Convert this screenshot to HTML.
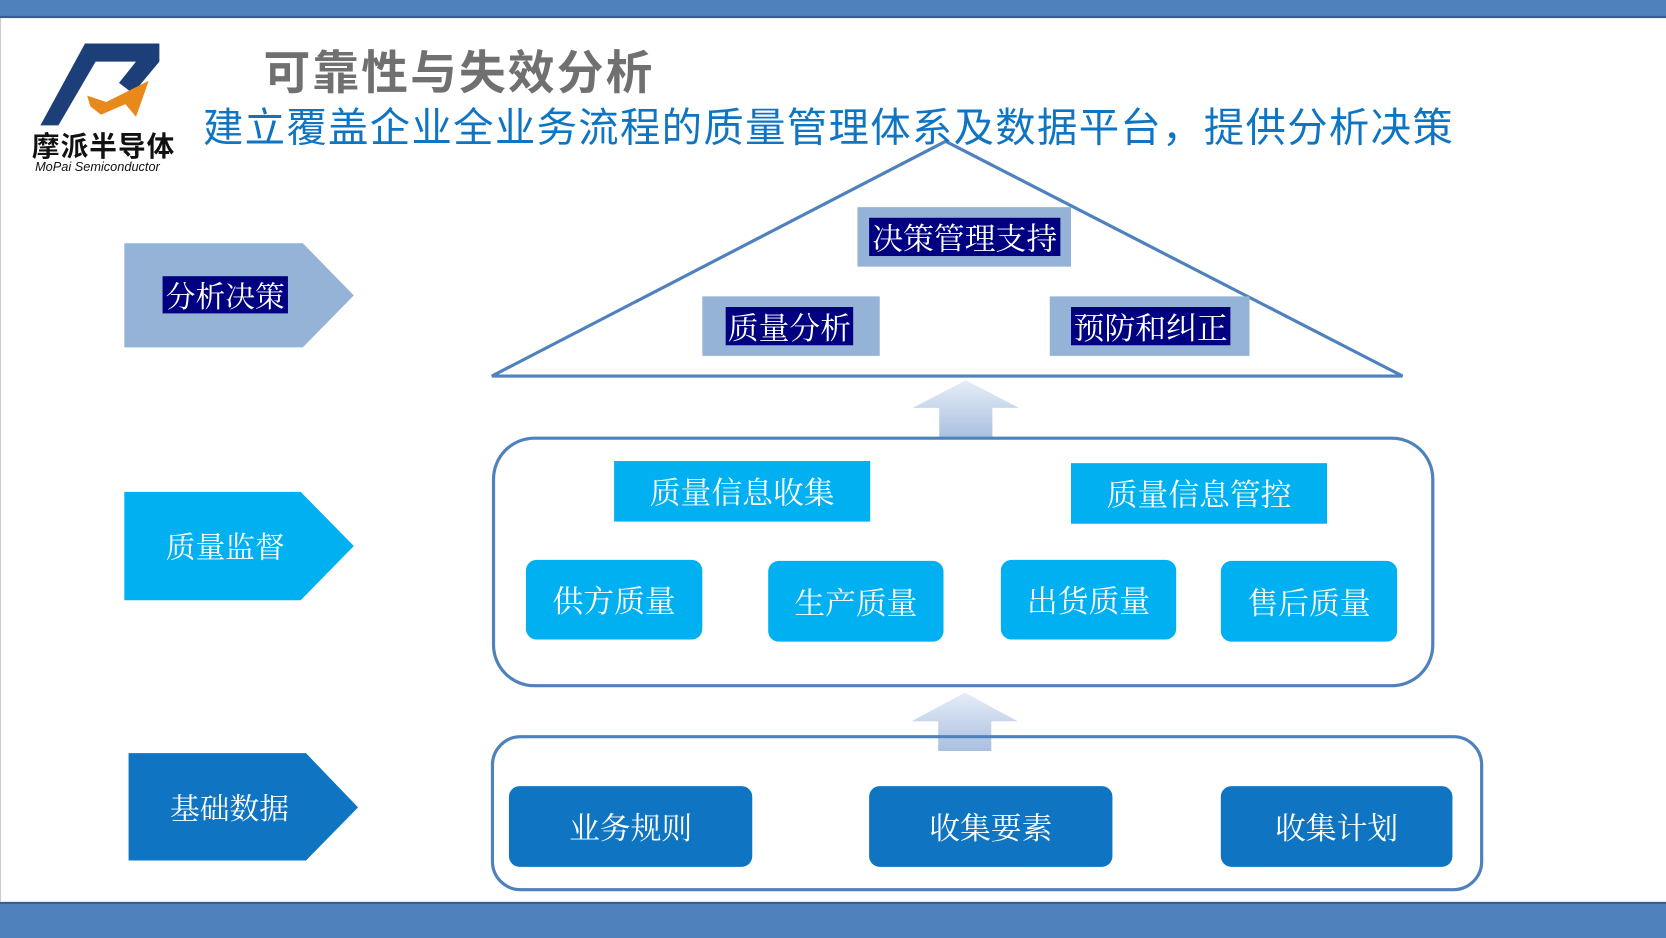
<!DOCTYPE html>
<html><head><meta charset="utf-8">
<style>
html,body{margin:0;padding:0;width:1666px;height:938px;overflow:hidden;background:#fff}
#w{position:absolute;left:0;top:0;width:1568px;height:883px;transform:scale(1.0625,1.0623);transform-origin:0 0;font-family:"Liberation Serif","Noto Serif CJK SC",serif}
.a{position:absolute}
.t{display:flex;align-items:center;justify-content:center;color:#fff}
</style></head><body>
<div id="w">
<div class="a" style="left:0;top:0;width:1568px;height:17px;background:#4f81bd;border-bottom:2px solid #385d8a;box-sizing:border-box"></div>
<div class="a" style="left:0;top:849px;width:1568px;height:34px;background:#4f81bd;border-top:2px solid #385d8a;box-sizing:border-box"></div>
<div class="a" style="left:0;top:17px;width:1px;height:832px;background:#ccc"></div>
<svg class="a" style="left:0;top:0" width="1568" height="883">
<polygon points="80,41 150,41 150,58 125,88 112,78 128,58 90,58 55,118 38,118" fill="#1c3f7a"/>
<polygon points="82,90 100,96 140,76 128,110 118,98 95,108 85,100" fill="#e8891b"/>
<polygon points="463,354 890,133 1320,354" fill="none" stroke="#4f81bd" stroke-width="3"/>
<defs><linearGradient id="g" x1="0" y1="0" x2="0" y2="1"><stop offset="0" stop-color="#e6edf7"/><stop offset="1" stop-color="#a9c0e0"/></linearGradient></defs>
<polygon points="909,358 959,384 934,384 934,412 884,412 884,384 859,384" fill="url(#g)"/>
<polygon points="908,652 958,679 933,679 933,707 883,707 883,679 858,679" fill="url(#g)"/>
<polygon points="117,229 285,229 333,278 285,327 117,327" fill="#95b3d7"/>
<polygon points="117,463 283,463 333,514 283,565 117,565" fill="#00b0f0"/>
<polygon points="121,709 288,709 337,760 288,810 121,810" fill="#0f75c2"/>
</svg>
<div class="a" style="left:30px;top:118px;font:bold 26px 'Liberation Sans','Noto Sans CJK SC',sans-serif;color:#111;letter-spacing:1px">摩派半导体</div>
<div class="a" style="left:33px;top:150px;font:italic 12px 'Liberation Sans',sans-serif;color:#111">MoPai Semiconductor</div>
<div class="a" style="left:248px;top:42px;font:bold 44px 'Liberation Sans','Noto Sans CJK SC',sans-serif;color:#707070;line-height:56px;letter-spacing:2px">可靠性与失效分析</div>
<div class="a" style="left:191px;top:96px;font:38px 'Liberation Sans','Noto Sans CJK SC',sans-serif;color:#0f75c2;line-height:50px;white-space:nowrap;letter-spacing:1.25px">建立覆盖企业全业务流程的质量管理体系及数据平台，提供分析决策</div>

<div class="a t" style="left:153px;top:260px;width:118px;height:35px;background:#000080;font-size:28px">分析决策</div>
<div class="a t" style="left:117px;top:489px;width:190px;height:50px;font-size:28px">质量监督</div>
<div class="a t" style="left:121px;top:735px;width:190px;height:50px;font-size:28px">基础数据</div>

<div class="a" style="left:807px;top:195px;width:201px;height:56px;background:#95b3d7"></div>
<div class="a t" style="left:818px;top:205px;width:180px;height:36px;background:#000080;font-size:29px">决策管理支持</div>
<div class="a" style="left:661px;top:279px;width:167px;height:56px;background:#95b3d7"></div>
<div class="a t" style="left:683px;top:289px;width:120px;height:36px;background:#000080;font-size:29px">质量分析</div>
<div class="a" style="left:988px;top:279px;width:188px;height:56px;background:#95b3d7"></div>
<div class="a t" style="left:1008px;top:289px;width:150px;height:36px;background:#000080;font-size:29px">预防和纠正</div>

<div class="a" style="left:463px;top:411px;width:887px;height:236px;border:3px solid #4f81bd;border-radius:40px;box-sizing:border-box"></div>
<div class="a t" style="left:578px;top:434px;width:241px;height:57px;background:#00b0f0;font-size:29px">质量信息收集</div>
<div class="a t" style="left:1008px;top:436px;width:241px;height:57px;background:#00b0f0;font-size:29px">质量信息管控</div>
<div class="a t" style="left:495px;top:527px;width:166px;height:75px;background:#00b0f0;border-radius:10px;font-size:29px">供方质量</div>
<div class="a t" style="left:723px;top:528px;width:165px;height:76px;background:#00b0f0;border-radius:10px;font-size:29px">生产质量</div>
<div class="a t" style="left:942px;top:527px;width:165px;height:75px;background:#00b0f0;border-radius:10px;font-size:29px">出货质量</div>
<div class="a t" style="left:1149px;top:528px;width:166px;height:76px;background:#00b0f0;border-radius:10px;font-size:29px">售后质量</div>

<div class="a" style="left:462px;top:692px;width:934px;height:147px;border:3px solid #4f81bd;border-radius:28px;box-sizing:border-box"></div>
<div class="a t" style="left:479px;top:740px;width:229px;height:76px;background:#0f75c2;border-radius:10px;font-size:29px">业务规则</div>
<div class="a t" style="left:818px;top:740px;width:229px;height:76px;background:#0f75c2;border-radius:10px;font-size:29px">收集要素</div>
<div class="a t" style="left:1149px;top:740px;width:218px;height:76px;background:#0f75c2;border-radius:10px;font-size:29px">收集计划</div>
</div>
</body></html>
